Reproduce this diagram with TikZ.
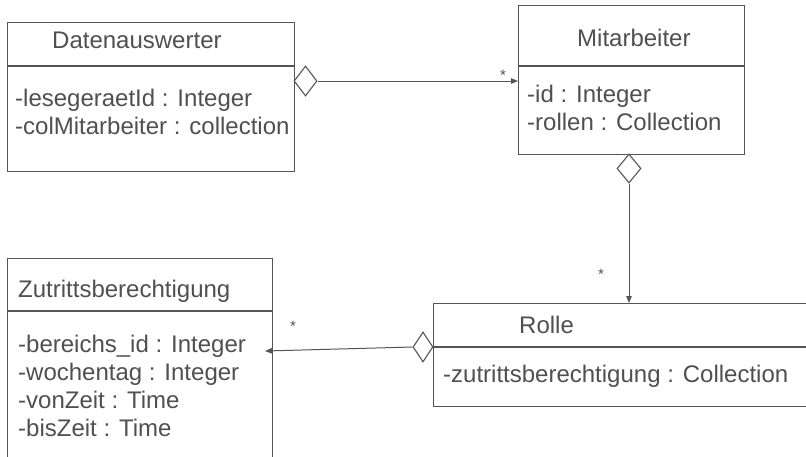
\documentclass[tikz,border=0pt]{standalone}
\usepackage{fontspec}
\setmainfont{Liberation Sans}
\usetikzlibrary{shapes.geometric,arrows.meta}
\definecolor{ln}{HTML}{555555}
\definecolor{tx}{HTML}{505050}
\begin{document}
\begin{tikzpicture}[x=1pt,y=-1pt,
  box/.style={draw=ln,line width=1.1pt,rectangle,inner sep=0pt,anchor=north west},
  sep/.style={draw=ln,line width=1.1pt},
  lbl/.style={anchor=base west,inner sep=0pt,text=tx,font=\fontsize{24}{27.7}\selectfont},
  agg/.style={draw=ln,line width=1.1pt,diamond,inner sep=0pt,fill=white},
  assoc/.style={draw=ln,line width=1pt,-{Triangle[length=7pt,width=5.5pt]}},
  mult/.style={inner sep=0pt,text=tx,font=\fontsize{15}{15}\selectfont}]
\useasboundingbox (0,0) rectangle (806,456);
\clip (0,0) rectangle (806,456);
\fill[white] (0,0) rectangle (806,456);

% boxes
\node[box,minimum width=287pt,minimum height=149pt] (da) at (7,22) {};
\node[box,minimum width=226pt,minimum height=149pt] (ma) at (518,5) {};
\node[box,minimum width=265pt,minimum height=220pt] (zu) at (7,258) {};
\node[box,minimum width=400pt,minimum height=103pt] (ro) at (433,303) {};

% compartment separators
\draw[sep] (da.west |- 0,66) -- (da.east |- 0,66);
\draw[sep] (ma.west |- 0,66) -- (ma.east |- 0,66);
\draw[sep] (zu.west |- 0,311) -- (zu.east |- 0,311);
\draw[sep] (ro.west |- 0,347) -- (ro.east |- 0,347);

% texts
\node[lbl] (t1) at (52,48) {Datenauswerter};
\node[lbl] (t2) at (15,106.5) {-lesegeraetId : Integer};
\node[lbl] (t3) at (15,134) {-colMitarbeiter : collection};

\node[lbl] (t4) at (577,46) {Mitarbeiter};
\node[lbl] (t5) at (527,102.5) {-id : Integer};
\node[lbl] (t6) at (527,130) {-rollen : Collection};

\node[lbl] (t7) at (18,297) {Zutrittsberechtigung};
\node[lbl] (t8) at (18,352.5) {-bereichs\_id : Integer};
\node[lbl] (t9) at (18,380) {-wochentag : Integer};
\node[lbl] (t10) at (18,408) {-vonZeit : Time};
\node[lbl] (t11) at (18,436) {-bisZeit : Time};

\node[lbl] (t12) at (519,333) {Rolle};
\node[lbl] (t13) at (443,382.5) {-zutrittsberechtigung : Collection};

% aggregation diamonds
\node[agg,minimum width=23pt,minimum height=30pt] (d1) at (305.5,81) {};
\node[agg,minimum width=24pt,minimum height=29pt] (d2) at (629,168.5) {};
\node[agg,minimum width=20pt,minimum height=30pt] (d3) at (423,347) {};

% associations
\draw[assoc] (d1.east) -- (ma.west |- d1.east);
\draw[assoc] (d2.south) -- (ro.north -| d2.south);
\coordinate (zend) at (265,351);
\draw[assoc] (d3.west) -- (zend);

% multiplicities
\node[mult] (m1) at (503,75) {*};
\node[mult] (m2) at (601,274) {*};
\node[mult] (m3) at (293,326) {*};
\end{tikzpicture}
\end{document}
